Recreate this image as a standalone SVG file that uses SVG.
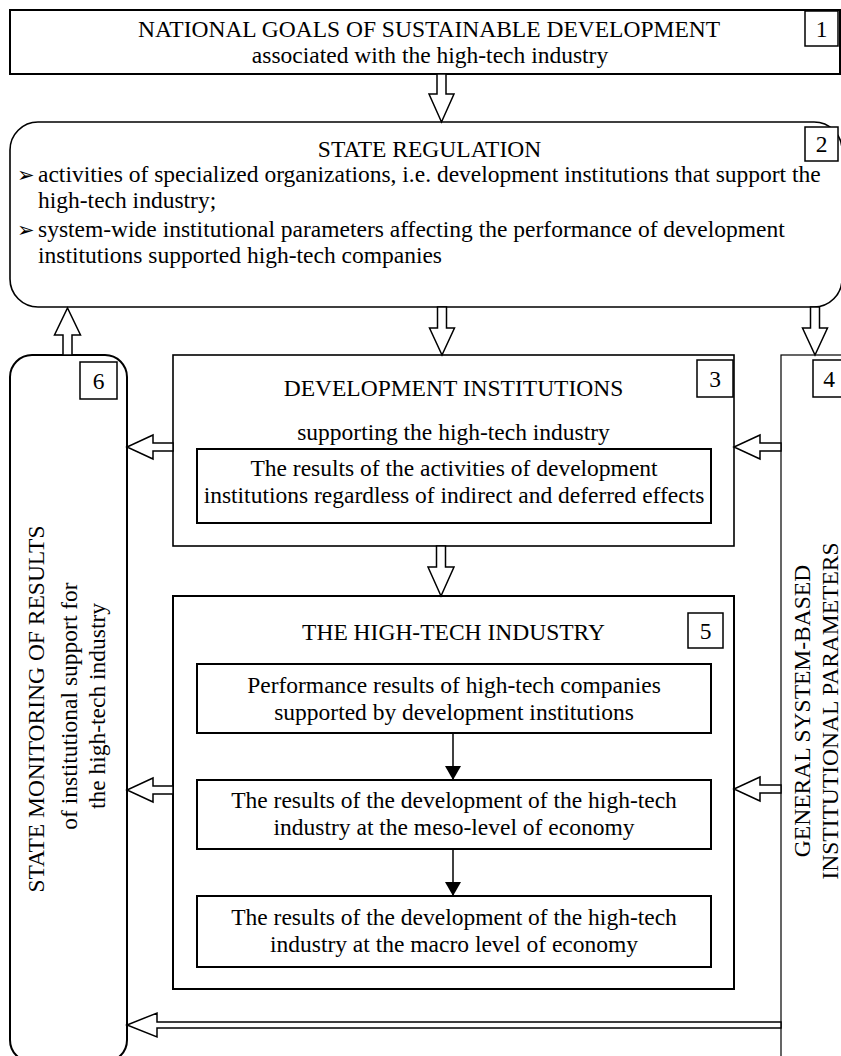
<svg xmlns="http://www.w3.org/2000/svg" width="841" height="1056" viewBox="0 0 841 1056">
<style>
  text { font-family: "Liberation Serif", "Times New Roman", serif; font-size: 23.5px; fill: #000; }
  .c { text-anchor: middle; }
  .box { fill: #fff; stroke: #000; stroke-width: 2; }
  .thin { fill: #fff; stroke: #000; stroke-width: 1.2; }
  .lbl { fill: #fff; stroke: #000; stroke-width: 1.5; }
  .blk { fill: #fff; stroke: #000; stroke-width: 1.5; stroke-linejoin: miter; }
  .bul { font-family: "DejaVu Sans", sans-serif; font-size: 21px; }
</style>
<defs>
  <marker id="ah" markerWidth="14" markerHeight="16" refX="14" refY="8" orient="auto" markerUnits="userSpaceOnUse">
    <path d="M0,0 L14,8 L0,16 Z" fill="#000"/>
  </marker>
</defs>
<rect width="841" height="1056" fill="#fff"/>

<g id="node1">
  <rect class="box" x="10" y="10" width="830" height="64"/>
  <rect class="lbl" x="805" y="11" width="33" height="35"/>
  <text class="c" x="821.5" y="37">1</text>
  <text class="c" x="429" y="37">NATIONAL GOALS OF SUSTAINABLE DEVELOPMENT</text>
  <text class="c" x="430" y="63">associated with the high-tech industry</text>
</g>

<g id="node2">
  <rect class="box" x="10" y="122" width="832" height="185" rx="28" ry="28" style="stroke-width:1.6"/>
  <rect class="lbl" x="805" y="127" width="33" height="34"/>
  <text class="c" x="821.5" y="152">2</text>
  <text class="c" x="429.5" y="157">STATE REGULATION</text>
  <text class="bul" x="17" y="182">➢</text>
  <text x="38" y="182">activities of specialized organizations, i.e. development institutions that support the</text>
  <text x="38" y="208">high-tech industry;</text>
  <text class="bul" x="17" y="237">➢</text>
  <text x="38" y="237">system-wide institutional parameters affecting the performance of development</text>
  <text x="38" y="263">institutions supported high-tech companies</text>
</g>

<g id="node6">
  <rect class="box" x="10" y="355" width="117" height="707" rx="22" ry="22"/>
  <rect class="lbl" x="80" y="362" width="37" height="37"/>
  <text class="c" x="98.5" y="389">6</text>
  <text class="c" transform="translate(44,709) rotate(-90)" x="0" y="0">STATE MONITORING OF RESULTS</text>
  <text class="c" transform="translate(77,706) rotate(-90)" x="0" y="0">of institutional support for</text>
  <text class="c" transform="translate(105,706) rotate(-90)" x="0" y="0">the high-tech industry</text>
</g>

<g id="node4">
  <rect class="thin" x="781" y="355" width="80" height="720"/>
  <rect class="lbl" x="813" y="360" width="37" height="37"/>
  <text class="c" x="829" y="387">4</text>
  <text class="c" transform="translate(810,711) rotate(-90)" x="0" y="0">GENERAL SYSTEM-BASED</text>
  <text class="c" transform="translate(838,711) rotate(-90)" x="0" y="0">INSTITUTIONAL PARAMETERS</text>
</g>

<g id="node3">
  <rect class="box" x="173" y="355" width="561" height="191" style="stroke-width:1.6"/>
  <rect class="lbl" x="697" y="360" width="36" height="37"/>
  <text class="c" x="715" y="387">3</text>
  <text class="c" x="453.5" y="396">DEVELOPMENT INSTITUTIONS</text>
  <text class="c" x="453.5" y="440">supporting the high-tech industry</text>
  <rect class="box" x="197" y="449" width="514" height="74"/>
  <text class="c" x="454" y="476">The results of the activities of development</text>
  <text class="c" x="454" y="503">institutions regardless of indirect and deferred effects</text>
</g>

<g id="node5">
  <rect class="box" x="173" y="596" width="561" height="393"/>
  <rect class="lbl" x="688" y="613" width="35" height="35"/>
  <text class="c" x="705.5" y="639">5</text>
  <text class="c" x="453.5" y="640">THE HIGH-TECH INDUSTRY</text>
  <rect class="box" x="197" y="664" width="514" height="69"/>
  <text class="c" x="454" y="693">Performance results of high-tech companies</text>
  <text class="c" x="454" y="720">supported by development institutions</text>
  <rect class="box" x="197" y="780" width="514" height="69"/>
  <text class="c" x="454" y="808">The results of the development of the high-tech</text>
  <text class="c" x="454" y="835">industry at the meso-level of economy</text>
  <rect class="box" x="197" y="896" width="514" height="71"/>
  <text class="c" x="454" y="925">The results of the development of the high-tech</text>
  <text class="c" x="454" y="952">industry at the macro level of economy</text>
</g>

<g id="connectors">
  <polygon class="blk" points="437,74 446,74 446,94 454,94 441.5,122 429,94 437,94"/>
  <polygon class="blk" points="437.5,307 446.5,307 446.5,328 454.5,328 442,355 429.5,328 437.5,328"/>
  <polygon class="blk" points="810.5,307 819.5,307 819.5,328 827.5,328 815,355 802.5,328 810.5,328"/>
  <polygon class="blk" points="63,355 72,355 72,335 80.5,335 67.5,308 54.5,335 63,335"/>
  <polygon class="blk" points="436.5,546 445.5,546 445.5,567 454,567 441,596 428,567 436.5,567"/>
  <polygon class="blk" points="173,443 153,443 153,435 127,447 153,459 153,451 173,451"/>
  <polygon class="blk" points="781,443 760,443 760,435 734,447 760,459 760,451 781,451"/>
  <polygon class="blk" points="173,786 153,786 153,778 127,790 153,802 153,794 173,794"/>
  <polygon class="blk" points="781,785 760,785 760,777 734,789 760,801 760,793 781,793"/>
  <polygon class="blk" points="781,1022 157,1022 157,1013 127,1025 157,1037 157,1028 781,1028"/>
  <line x1="453" y1="733" x2="453" y2="780" stroke="#000" stroke-width="1.5" marker-end="url(#ah)"/>
  <line x1="453" y1="849" x2="453" y2="896" stroke="#000" stroke-width="1.5" marker-end="url(#ah)"/>
</g>
</svg>
